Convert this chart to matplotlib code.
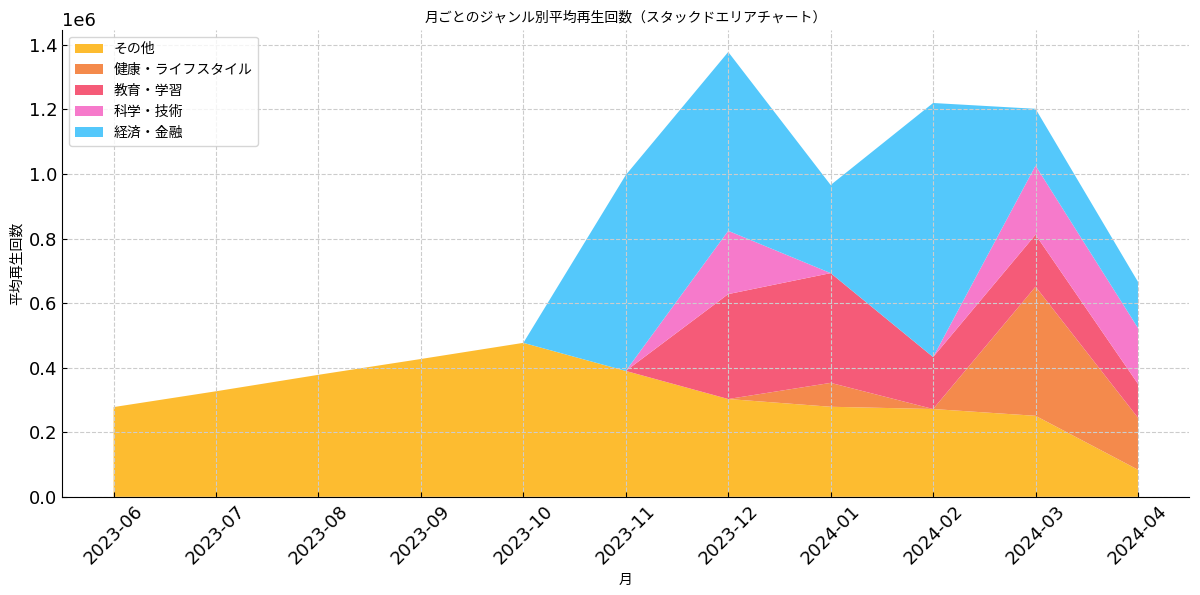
import matplotlib
matplotlib.use("Agg")
import matplotlib.pyplot as plt
import numpy as np

plt.rcParams['font.family'] = ['DejaVu Sans', 'Noto Sans CJK JP']

# --- data ---
months = ["2023-06", "2023-07", "2023-08", "2023-09", "2023-10", "2023-11",
          "2023-12", "2024-01", "2024-02", "2024-03", "2024-04"]
other = [0.278e6, 0.327e6, 0.378e6, 0.427e6, 0.477e6, 0.390e6,
         0.303e6, 0.279e6, 0.272e6, 0.251e6, 0.084e6]
health = [0, 0, 0, 0, 0, 0, 0, 0.074e6, 0, 0.400e6, 0.161e6]
education = [0, 0, 0, 0, 0, 0, 0.325e6, 0.340e6, 0.161e6, 0.161e6, 0.105e6]
science = [0, 0, 0, 0, 0, 0, 0.196e6, 0, 0, 0.214e6, 0.173e6]
finance = [0, 0, 0, 0, 0, 0.607e6, 0.554e6, 0.273e6, 0.787e6, 0.176e6, 0.143e6]

labels = ["その他", "健康・ライフスタイル", "教育・学習", "科学・技術", "経済・金融"]
colors = ['#FDBC30', '#F48A4C', '#F55B78', '#F67ACB', '#54C8FB']

fig, ax = plt.subplots(figsize=(12, 5.95), dpi=100)
x = np.arange(len(months))
ax.stackplot(x, other, health, education, science, finance,
             labels=labels, colors=colors)

ax.set_xticks(x)
ax.set_xticklabels(months, rotation=45, fontsize=13)
ax.tick_params(axis='y', labelsize=13)
ax.tick_params(direction='in')
ax.yaxis.get_offset_text().set_fontsize(13)

ax.set_title("月ごとのジャンル別平均再生回数（スタックドエリアチャート）", fontsize=10)
ax.set_xlabel("月", fontsize=10)
ax.set_ylabel("平均再生回数", fontsize=10)

ax.grid(True, ls='--', color='#cccccc', lw=0.8)
ax.set_axisbelow(False)
for s in ['top', 'right']:
    ax.spines[s].set_visible(False)

ax.legend(loc='upper left', fontsize=10)

fig.subplots_adjust(left=0.052, right=0.991, bottom=0.165, top=0.95)
fig.savefig("out.png")
